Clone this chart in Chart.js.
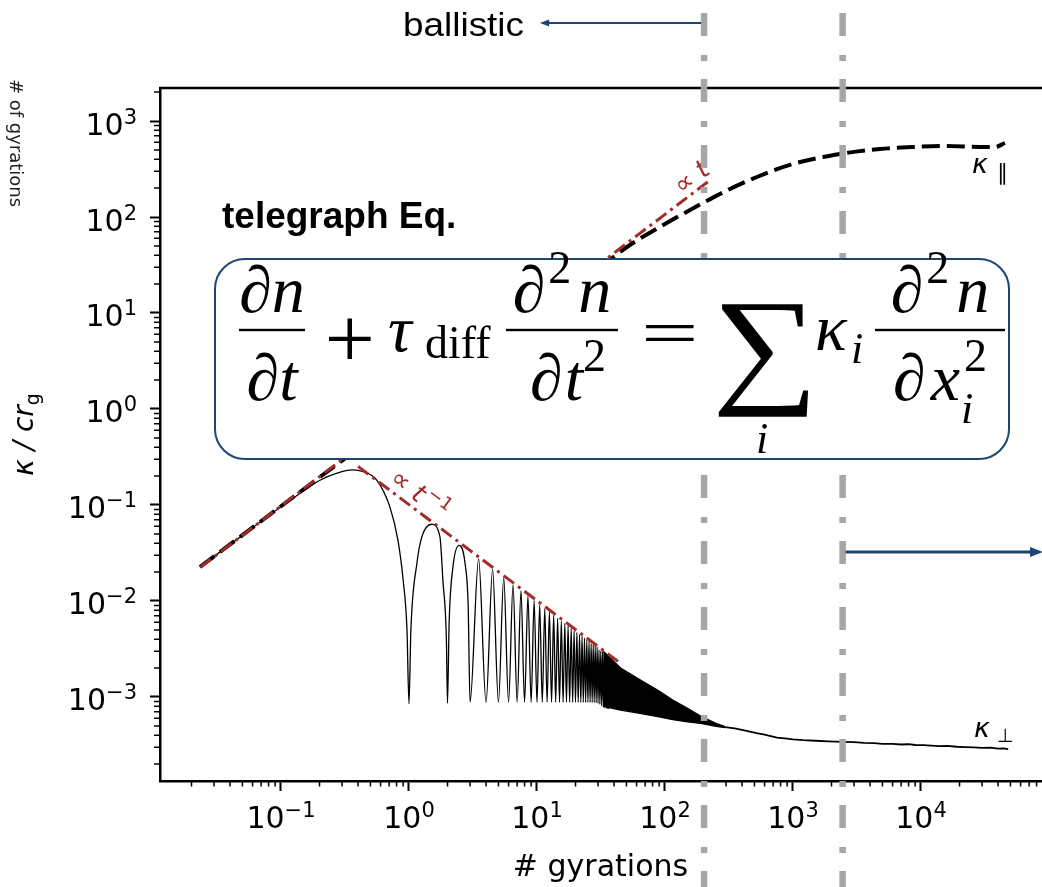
<!DOCTYPE html>
<html>
<head>
<meta charset="utf-8">
<script src="https://cdn.jsdelivr.net/npm/chart.js@4.4.1/dist/chart.umd.min.js"></script>
<style>
    html, body { margin: 0; padding: 0; background: #fff; overflow: hidden; }
    #wrap { width: 1060px; height: 887px; }
</style>
</head>
<body>
<div id="wrap"><canvas id="kappaChart" width="1060" height="887"></canvas></div>
<script>
// axis decades
const X_TICKS = [1e-1, 1e0, 1e1, 1e2, 1e3, 1e4];
const Y_TICKS = [1e-3, 1e-2, 1e-1, 1e0, 1e1, 1e2, 1e3];

// kappa_parallel (dashed)
const parT = [0.0233, 0.05, 0.1, 0.2, 0.3, 1, 3, 10, 30, 50.5, 100, 198, 322, 523, 1000, 2330, 4780, 8660, 15960, 28850, 37800, 45300];
const parK = [0.0226, 0.0485, 0.097, 0.194, 0.29, 0.97, 2.9, 9.6, 28.5, 48.7, 84.6, 140, 196, 261, 357, 453, 511, 536, 549, 536, 536, 590];

// kappa_perp: ballistic rise, first humps
const perpT = [0.0233, 0.05, 0.1, 0.15, 0.2, 0.27, 0.36, 0.44, 0.56, 0.71, 0.82, 0.9, 0.965, 1.0,
               1.035, 1.155, 1.26, 1.51, 1.746, 1.84, 1.96, 2.0,
               2.06, 2.2, 2.46, 2.75, 2.9];
const perpK = [0.0226, 0.0485, 0.096, 0.14, 0.18, 0.213, 0.232, 0.222, 0.182, 0.095, 0.043, 0.0166, 0.005, 0.00085,
               0.005, 0.025, 0.0465, 0.063, 0.0465, 0.0166, 0.004, 0.00086,
               0.006, 0.022, 0.038, 0.024, 0.009];

// kappa_perp: later oscillation tops and bottoms
const peakT = [3.5, 4.5, 5.5, 6.5, 7.5, 8.5, 9.5, 10.5, 11.5, 12.5, 13.5, 14.5, 15.5, 16.5, 17.5, 18.5,
               19.5, 20.5, 21.5, 22.5, 23.5, 24.5, 25.5, 26.5, 27.5, 28.5, 29.5, 30.5, 31.5, 32.5, 33.5, 34.5, 35.5];
const peakK = [0.0275, 0.0213, 0.0175, 0.0148, 0.0128, 0.0113, 0.0101, 0.0091, 0.0083, 0.0077, 0.0071, 0.0066, 0.0062, 0.0058, 0.0055, 0.0052,
               0.0049, 0.0047, 0.0045, 0.0043, 0.0041, 0.0039, 0.0038, 0.0036, 0.0035, 0.0034, 0.0033, 0.0031, 0.0030, 0.0030, 0.0029, 0.0028, 0.0027];
const troughT = [3, 4, 5, 6, 7, 8, 9, 10, 11, 12, 13, 14, 15, 16, 17, 18, 19,
                 20, 21, 22, 23, 24, 25, 26, 27, 28, 29, 30, 31, 32, 33, 34, 35, 36];
const troughK = [0.00088, 0.00088, 0.00088, 0.00088, 0.00088, 0.00088, 0.00088, 0.00088, 0.00088, 0.00088, 0.00088, 0.00088, 0.00088, 0.00088, 0.00088, 0.00088, 0.00088,
                 0.00088, 0.00088, 0.00088, 0.00088, 0.00088, 0.00088, 0.00088, 0.00088, 0.00088, 0.00087, 0.00086, 0.00084, 0.00081, 0.00078, 0.00077, 0.00076, 0.00075];

// kappa_perp: unresolved oscillation band
const bandT = [33, 45, 62, 90, 115, 150, 191, 250, 295];
const bandHi = [0.0030, 0.0020, 0.00155, 0.00115, 0.00093, 0.00076, 0.00063, 0.00053, 0.00049];
const bandLo = [0.00080, 0.00073, 0.00068, 0.00062, 0.00058, 0.00055, 0.00053, 0.000495, 0.00048];

// kappa_perp: diffusive tail
const tailT = [295, 350, 400, 460, 520, 600, 750, 900, 1000, 1200, 1500, 1900, 2450, 3000, 3600, 4300, 5000,
               6000, 7000, 8000, 9000, 10500, 12000, 14000, 16000, 19000, 22000, 26000, 30000, 35000, 40000, 44000, 48000];
const tailK = [4.85e-4, 4.7e-4, 4.55e-4, 4.35e-4, 4.2e-4, 4.05e-4, 3.78e-4, 3.68e-4, 3.62e-4, 3.55e-4, 3.5e-4, 3.45e-4, 3.4e-4, 3.38e-4, 3.32e-4, 3.3e-4, 3.25e-4,
               3.24e-4, 3.2e-4, 3.22e-4, 3.16e-4, 3.15e-4, 3.12e-4, 3.08e-4, 3.1e-4, 3.03e-4, 3.0e-4, 2.98e-4, 2.95e-4, 2.97e-4, 2.9e-4, 2.92e-4, 2.87e-4];

// guide lines  ∝ t  and  ∝ t^-1
const ballT = [0.0235, 232];
const ballK = [0.0225, 250];
const decayT = [0.40, 44.6];
const decayK = [0.2525, 0.00226];

// regime boundaries (# gyrations)
const markerT = [202, 2442];

const NAVY = '#1b4573';
const BROWN = '#a52a2a';
const GREY = '#a6a6a6';
const SANS = '"DejaVu Sans"';
const SERIF = '"Liberation Serif"';

function pts(ts, ks) {
    return ts.map((t, i) => ({ x: t, y: ks[i] }));
}

const perpPts = pts(perpT, perpK)
    .concat(pts(peakT, peakK), pts(troughT, troughK))
    .sort((a, b) => a.x - b.x);

function drawRun(ctx, x, y, parts) {
    for (const p of parts) {
        ctx.font = p[1];
        ctx.fillText(p[0], x, y + (p[2] || 0));
        x += ctx.measureText(p[0]).width + (p[3] || 0);
    }
    return x;
}

function runWidth(ctx, parts) {
    let w = 0;
    for (const p of parts) {
        ctx.font = p[1];
        w += ctx.measureText(p[0]).width + (p[3] || 0);
    }
    return w;
}

function centerRun(ctx, cx, y, parts) {
    return drawRun(ctx, cx - runWidth(ctx, parts) / 2, y, parts);
}

// "10" with a raised exponent, mathtext style
function powParts(v) {
    const e = String(Math.round(Math.log10(v))).replace('-', '−');
    return [['10', '30px ' + SANS], [e, '21px ' + SANS, -11]];
}

// draw one glyph squeezed/stretched into a pixel box
function fitGlyph(ctx, ch, font, x1, y1, x2, y2) {
    ctx.font = '100px ' + font;
    const m = ctx.measureText(ch);
    const gw = m.actualBoundingBoxLeft + m.actualBoundingBoxRight;
    const gh = m.actualBoundingBoxAscent + m.actualBoundingBoxDescent;
    ctx.save();
    ctx.translate(x1, y1);
    ctx.scale((x2 - x1) / gw, (y2 - y1) / gh);
    ctx.fillText(ch, m.actualBoundingBoxLeft, m.actualBoundingBoxAscent);
    ctx.restore();
}

function roundBox(ctx, x, y, w, h, r) {
    ctx.beginPath();
    ctx.moveTo(x + r, y);
    ctx.arcTo(x + w, y, x + w, y + h, r);
    ctx.arcTo(x + w, y + h, x, y + h, r);
    ctx.arcTo(x, y + h, x, y, r);
    ctx.arcTo(x, y, x + w, y, r);
    ctx.closePath();
}

function arrow(ctx, x1, x2, y, head) {
    const dir = Math.sign(x2 - x1);
    ctx.beginPath();
    ctx.moveTo(x1, y);
    ctx.lineTo(x2 - dir * head * 1.5, y);
    ctx.stroke();
    ctx.beginPath();
    ctx.moveTo(x2, y);
    ctx.lineTo(x2 - dir * head * 2.6, y - head);
    ctx.lineTo(x2 - dir * head * 2.6, y + head);
    ctx.closePath();
    ctx.fill();
}

function drawEquation(ctx) {
    const IT = 'italic 66px ' + SERIF;
    const SM = '46px ' + SERIF;
    const SMI = 'italic 44px ' + SERIF;
    const numY = 312, barY = 330, denY = 400;

    ctx.save();
    roundBox(ctx, 215, 259, 794, 200, 30);
    ctx.fillStyle = '#fff';
    ctx.fill();
    ctx.lineWidth = 2;
    ctx.strokeStyle = NAVY;
    ctx.stroke();

    ctx.fillStyle = '#000';
    ctx.textAlign = 'left';
    ctx.textBaseline = 'alphabetic';

    const bar = (x1, x2) => ctx.fillRect(x1, barY - 1.2, x2 - x1, 2.4);
    const partial2 = [['∂', IT, 0, 3], ['2', SM, -29, 7], ['n', IT]];

    // dn/dt
    centerRun(ctx, 272, numY, [['∂', IT], ['n', IT]]);
    bar(239, 305);
    centerRun(ctx, 272, denY, [['∂', IT], ['t', IT]]);

    // + tau_diff
    fitGlyph(ctx, '+', SERIF, 328, 318, 371, 359);
    drawRun(ctx, 388, 351, [['τ', IT]]);
    drawRun(ctx, 425, 358, [['diff', '46px ' + SERIF]]);

    // d2n/dt2
    centerRun(ctx, 562, numY, partial2);
    bar(506, 618);
    centerRun(ctx, 568, denY, [['∂', IT, 0, 2], ['t', IT], ['2', SM, -29]]);

    // =
    fitGlyph(ctx, '=', SERIF, 645, 325, 694, 341);

    // big sum
    fitGlyph(ctx, '∑', SERIF, 718, 303, 809, 417);
    centerRun(ctx, 762, 453, [['i', SMI]]);

    // kappa_i
    drawRun(ctx, 815, 350, [['κ', IT]]);
    drawRun(ctx, 851, 363, [['i', SMI]]);

    // d2n/dx_i^2
    centerRun(ctx, 940, numY, partial2);
    bar(875, 1005);
    const xEnd = centerRun(ctx, 928, denY, [['∂', IT, 0, 5], ['x', IT, 0, 3]]);
    drawRun(ctx, xEnd + 1, denY - 29, [['2', SM]]);
    drawRun(ctx, xEnd - 2, denY + 23, [['i', SMI]]);
    ctx.restore();
}

const decor = {
    id: 'kappaDecor',
    afterDraw(chart) {
        const ctx = chart.ctx;
        const xs = chart.scales.x, ys = chart.scales.y;
        const a = chart.chartArea;
        ctx.save();

        // frame: top and right spines
        ctx.strokeStyle = '#000';
        ctx.lineWidth = 2.5;
        ctx.beginPath();
        ctx.moveTo(a.left - 1, a.top);
        ctx.lineTo(a.right, a.top);
        ctx.lineTo(a.right, a.bottom);
        ctx.stroke();

        // minor log ticks
        ctx.lineWidth = 1.5;
        ctx.beginPath();
        for (let e = -3; e <= 5; e++) {
            for (let k = 2; k <= 9; k++) {
                const v = k * Math.pow(10, e);
                if (v > xs.min && v < xs.max) {
                    const px = xs.getPixelForValue(v);
                    ctx.moveTo(px, a.bottom);
                    ctx.lineTo(px, a.bottom + 5.5);
                }
            }
        }
        for (let e = -5; e <= 4; e++) {
            for (let k = 2; k <= 9; k++) {
                const v = k * Math.pow(10, e);
                if (v > ys.min && v < ys.max) {
                    const py = ys.getPixelForValue(v);
                    ctx.moveTo(a.left, py);
                    ctx.lineTo(a.left - 6, py);
                }
            }
        }
        ctx.stroke();

        // decade labels
        ctx.fillStyle = '#000';
        ctx.textAlign = 'left';
        ctx.textBaseline = 'alphabetic';
        xs.ticks.forEach(t => {
            centerRun(ctx, xs.getPixelForValue(t.value), a.bottom + 47, powParts(t.value));
        });
        ys.ticks.forEach(t => {
            const parts = powParts(t.value);
            drawRun(ctx, 137 - runWidth(ctx, parts), ys.getPixelForValue(t.value) + 13.5, parts);
        });

        // kappa labels
        let px = xs.getPixelForValue(25000), py = ys.getPixelForValue(287);
        drawRun(ctx, px, py, [['κ', 'italic 27px ' + SANS]]);
        drawRun(ctx, px + 25, py + 7, [['∥', '22px ' + SANS]]);
        px = xs.getPixelForValue(25900); py = ys.getPixelForValue(3.83e-4);
        drawRun(ctx, px, py, [['κ', 'italic 27px ' + SANS]]);
        drawRun(ctx, px + 23, py + 5, [['⊥', '19px ' + SANS]]);

        // slope labels along the guide lines
        const ang = Math.atan2(ys.getPixelForValue(10) - ys.getPixelForValue(1),
                               xs.getPixelForValue(10) - xs.getPixelForValue(1));
        ctx.fillStyle = BROWN;
        const slopeLabel = (t, k, rot, parts) => {
            ctx.save();
            ctx.translate(xs.getPixelForValue(t), ys.getPixelForValue(k));
            ctx.rotate(rot);
            centerRun(ctx, 0, 9, parts);
            ctx.restore();
        };
        slopeLabel(160, 262, ang, [['∝ ', '26px ' + SANS], ['t', 'italic 26px ' + SANS]]);
        slopeLabel(1.22, 0.131, -ang, [['∝ ', '26px ' + SANS], ['t', 'italic 26px ' + SANS, 0, 2], ['−1', '18px ' + SANS, -11]]);

        // regime boundaries
        ctx.strokeStyle = GREY;
        ctx.lineWidth = 6.5;
        ctx.setLineDash([23, 19, 6, 18]);
        ctx.lineDashOffset = 53;
        const mx = markerT.map(t => xs.getPixelForValue(t));
        mx.forEach(x => {
            ctx.beginPath();
            ctx.moveTo(x, 0);
            ctx.lineTo(x, chart.height);
            ctx.stroke();
        });
        ctx.setLineDash([]);

        // arrows
        ctx.strokeStyle = NAVY;
        ctx.fillStyle = NAVY;
        ctx.lineWidth = 2;
        arrow(ctx, mx[0] - 3, 540, 23, 3.5);
        ctx.lineWidth = 3;
        arrow(ctx, mx[1] + 3, 1043, 552, 5);

        drawEquation(ctx);

        // text annotations
        ctx.fillStyle = '#000';
        ctx.textAlign = 'left';
        ctx.font = '33px "Liberation Sans"';
        ctx.save();
        ctx.translate(403, 36);
        ctx.scale(121 / ctx.measureText('ballistic').width, 1);
        ctx.fillText('ballistic', 0, 0);
        ctx.restore();
        ctx.font = 'bold 37px "Liberation Sans"';
        ctx.fillText('telegraph Eq.', 222, 228);

        // x title
        ctx.textAlign = 'center';
        ctx.font = '30px ' + SANS;
        ctx.fillText('# gyrations', (a.left + a.right) / 2 - 4, 876);

        // y title: kappa / c r_g
        ctx.save();
        ctx.translate(33, (a.top + a.bottom) / 2);
        ctx.rotate(-Math.PI / 2);
        ctx.textAlign = 'left';
        const yParts = [['κ / ', 'italic 28px ' + SANS], ['cr', 'italic 28px ' + SANS]];
        const w = runWidth(ctx, yParts) + runWidth(ctx, [['g', '19px ' + SANS]]);
        const xe = drawRun(ctx, -w / 2, 0, yParts);
        drawRun(ctx, xe, 6, [['g', '19px ' + SANS]]);
        ctx.restore();

        // neighbouring panel axis title
        ctx.save();
        ctx.translate(10, 143);
        ctx.rotate(Math.PI / 2);
        ctx.textAlign = 'center';
        ctx.fillStyle = '#222';
        ctx.font = '18px ' + SANS;
        ctx.fillText('# of gyrations', 0, 0);
        ctx.restore();

        ctx.restore();
    }
};

new Chart(document.getElementById('kappaChart'), {
    type: 'line',
    data: {
        datasets: [
            { data: pts(ballT, ballK), borderColor: BROWN, borderWidth: 3, borderDash: [13, 5, 3, 5] },
            { data: pts(decayT, decayK), borderColor: BROWN, borderWidth: 3, borderDash: [13, 5, 3, 5] },
            { data: pts(parT, parK), borderColor: '#000', borderWidth: 4, borderDash: [18, 7], cubicInterpolationMode: 'monotone' },
            { data: perpPts, borderColor: '#000', borderWidth: 1.3, cubicInterpolationMode: 'monotone' },
            { data: pts(bandT, bandHi), borderColor: '#000', borderWidth: 1.3, backgroundColor: '#000', fill: '+1' },
            { data: pts(bandT, bandLo), borderColor: '#000', borderWidth: 1.3 },
            { data: pts(tailT, tailK), borderColor: '#000', borderWidth: 1.8 },
        ]
    },
    options: {
        responsive: false,
        animation: false,
        devicePixelRatio: 1,
        parsing: false,
        layout: { padding: { top: 88, right: 11, left: 0, bottom: 0 } },
        elements: { point: { radius: 0 }, line: { borderJoinStyle: 'round', fill: false } },
        plugins: { legend: { display: false }, tooltip: { enabled: false } },
        scales: {
            x: {
                type: 'logarithmic',
                min: 0.01135,
                max: 1e5,
                afterFit(scale) { scale.height = 106; },
                afterBuildTicks(scale) { scale.ticks = X_TICKS.map(v => ({ value: v })); },
                ticks: { display: false },
                grid: { drawOnChartArea: false, drawTicks: true, tickLength: 10, tickWidth: 2, tickColor: '#000' },
                border: { display: true, color: '#000', width: 2.5 }
            },
            y: {
                type: 'logarithmic',
                min: 1.333e-4,
                max: 2207,
                afterFit(scale) { scale.width = 160; },
                afterBuildTicks(scale) { scale.ticks = Y_TICKS.map(v => ({ value: v })); },
                ticks: { display: false },
                grid: { drawOnChartArea: false, drawTicks: true, tickLength: 10, tickWidth: 2, tickColor: '#000' },
                border: { display: true, color: '#000', width: 2.5 }
            }
        }
    },
    plugins: [decor]
});
</script>
</body>
</html>
